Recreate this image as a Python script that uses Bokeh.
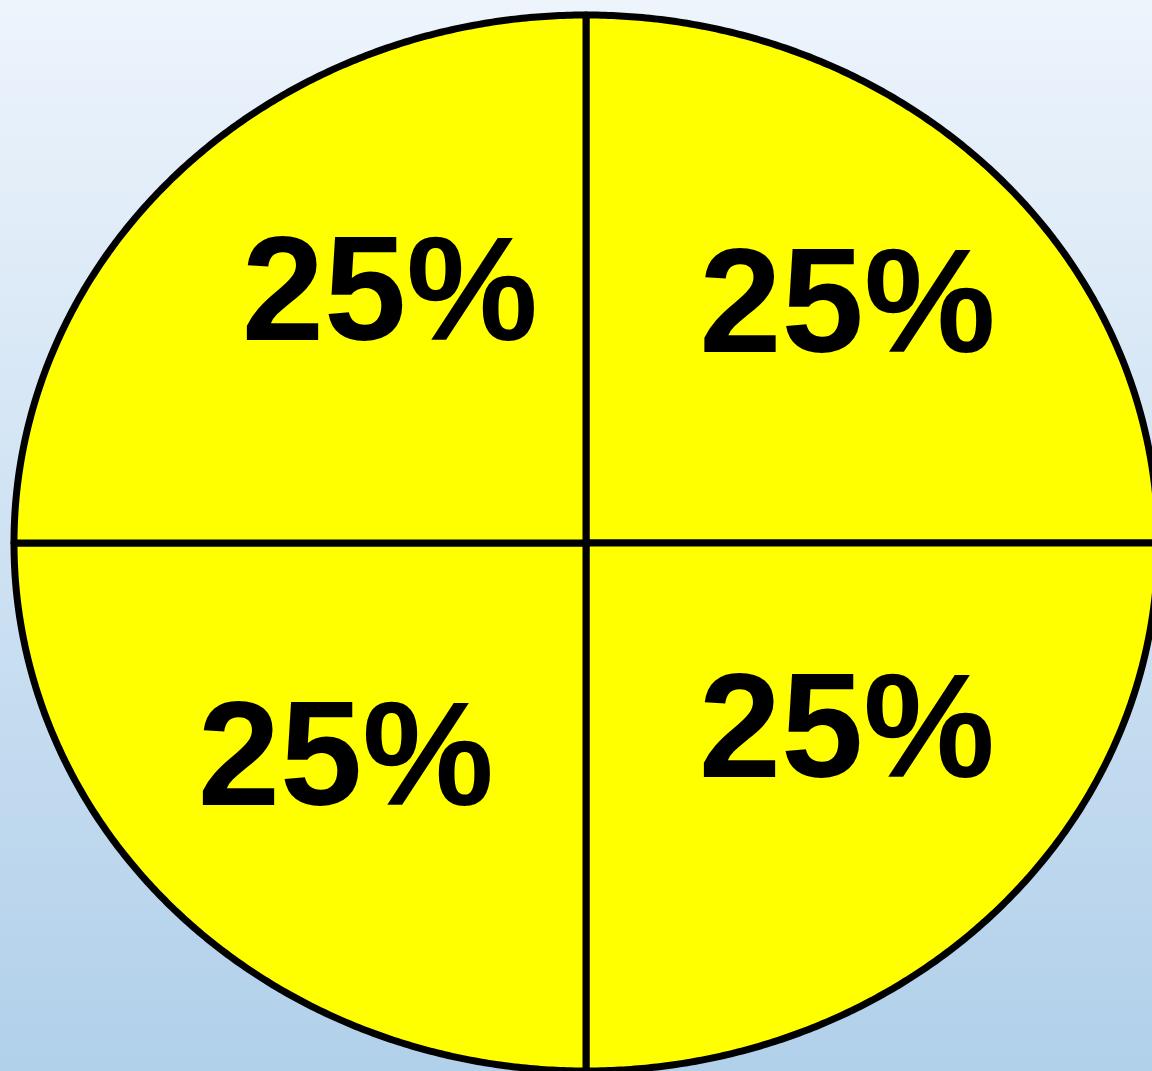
import numpy as np
from bokeh.plotting import figure
from bokeh.models import ColumnDataSource, Range1d
from bokeh.core.properties import value
from bokeh.embed import file_html
from bokeh.resources import INLINE

# Data
categories = ["A", "B", "C", "D"]
shares = [25, 25, 25, 25]
labels = ["25%", "25%", "25%", "25%"]

# Layout (label anchors relative to the unit ellipse, per slice)
label_x = [0.457, -0.343, -0.420, 0.456]
label_y = [0.459, 0.482, -0.399, -0.346]

W, H = 1152, 1071
p = figure(width=W, height=H, output_backend="svg", toolbar_location=None,
           x_range=Range1d(-1.0236, 0.9904), y_range=Range1d(-1.0009, 1.0275),
           min_border=0)
p.axis.visible = False
p.grid.visible = False
p.outline_line_color = None
p.background_fill_alpha = 0
p.border_fill_alpha = 0
p.styles = {"background-image": "linear-gradient(to bottom, #EDF4FC, #B1D0EA)"}

# Build elliptical wedges from shares (unit circle in data space)
total = float(sum(shares))
start = np.pi / 2
xs, ys = [], []
for s in shares:
    frac = s / total
    a0 = start - 2 * np.pi * frac
    t = np.linspace(start, a0, 240)
    xs.append([0.0] + list(np.cos(t)) + [0.0])
    ys.append([0.0] + list(np.sin(t)) + [0.0])
    start = a0

src = ColumnDataSource(dict(xs=xs, ys=ys, cat=categories))
p.patches("xs", "ys", source=src, fill_color="#FFFF00", line_color="black",
          line_width=7, line_join="round")

lsrc = ColumnDataSource(dict(x=label_x, y=label_y, text=labels))
p.text("x", "y", text="text", source=lsrc, text_align="center",
       text_baseline="middle", text_font=value("Liberation Sans"),
       text_font_style="bold", text_font_size="148px", text_color="black")

open("out.html", "w").write(file_html(p, INLINE))
